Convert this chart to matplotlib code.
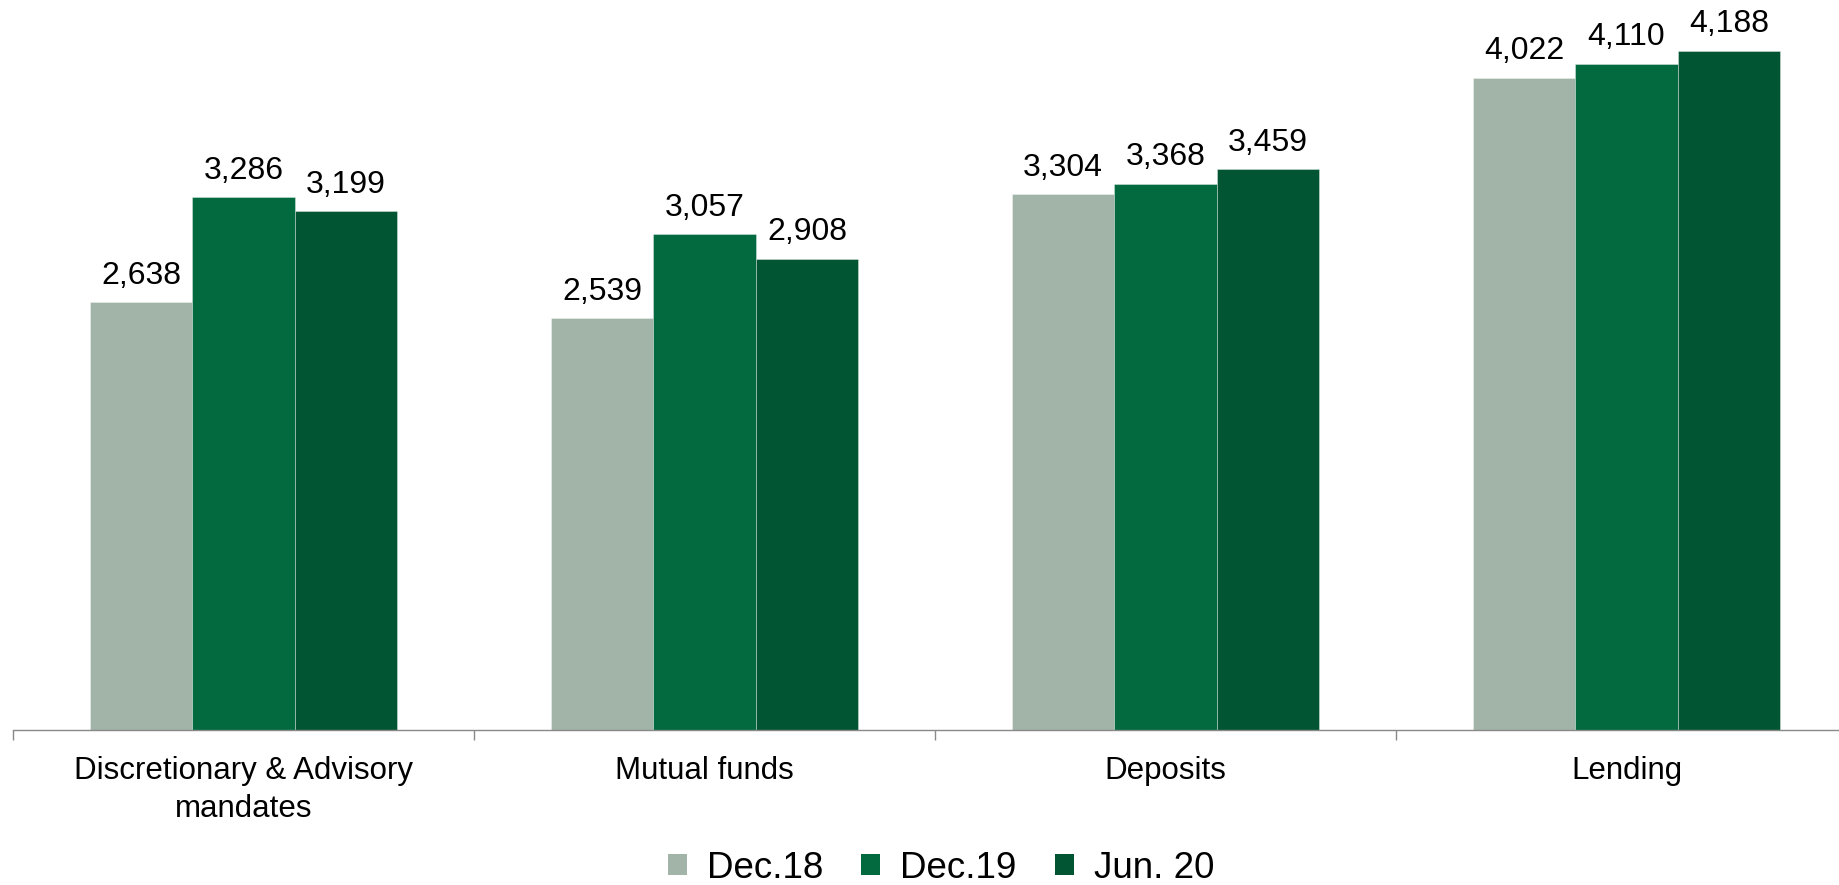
import matplotlib
matplotlib.use("Agg")
import matplotlib.pyplot as plt
from matplotlib.patches import Patch
import numpy as np

categories = ["Discretionary & Advisory\nmandates", "Mutual funds", "Deposits", "Lending"]
series_names = ["Dec.18", "Dec.19", "Jun. 20"]
dec18 = [2638, 2539, 3304, 4022]
dec19 = [3286, 3057, 3368, 4110]
jun20 = [3199, 2908, 3459, 4188]
colors = ["#A1B4A7", "#026A3E", "#015532"]

plt.rcParams['font.family'] = ['Liberation Sans', 'DejaVu Sans']

fig = plt.figure(figsize=(18.4, 8.85), dpi=100)
ax = fig.add_axes([13/1840, 155/885, 1844/1840, 729.5/885])

x = np.arange(len(categories))
w = 0.2225
for i, (vals, c) in enumerate(zip([dec18, dec19, jun20], colors)):
    bars = ax.bar(x + (i - 1) * w, vals, width=w, color=c,
                  edgecolor=(1, 1, 1, 0.35), linewidth=0.7)
    for b, v in zip(bars, vals):
        ax.annotate(f"{v:,}", (b.get_x() + b.get_width() / 2, v),
                    xytext=(0, 13.5), textcoords="offset points",
                    ha="center", va="baseline", fontsize=23, color="black")

ax.set_xlim(-0.5, 3.5)
ax.set_ylim(0, 4500)
ax.set_yticks([])
for s in ["top", "right", "left"]:
    ax.spines[s].set_visible(False)
ax.spines["bottom"].set_color("#898989")
ax.spines["bottom"].set_linewidth(1.0)

ax.set_xticks(np.arange(-0.5, 4.0, 1.0))
ax.set_xticklabels([])
ax.tick_params(axis="x", which="major", length=7.2, width=1.0, color="#898989")
ax.set_xticks(x, minor=True)
ax.set_xticklabels(categories, minor=True, fontsize=22.5, linespacing=1.32)
ax.tick_params(axis="x", which="minor", length=0, pad=19)

handles = [Patch(facecolor=c, edgecolor="none") for c in colors]
fig.legend(handles, series_names, loc="center", bbox_to_anchor=(941/1840, 1 - 868/885),
           ncol=3, frameon=False, fontsize=26.5, handlelength=0.52, handleheight=0.52,
           handletextpad=0.54, columnspacing=1.03, borderpad=0, borderaxespad=0)

fig.savefig("out.png", dpi=100)
